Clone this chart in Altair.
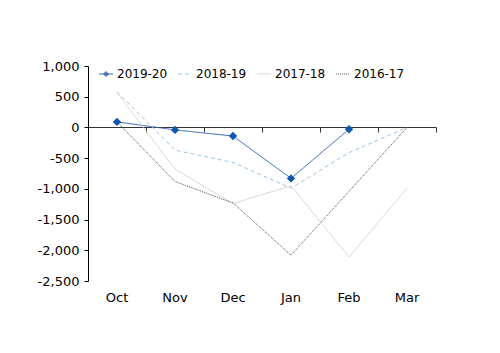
import altair as alt
import pandas as pd

months = ["Oct", "Nov", "Dec", "Jan", "Feb", "Mar"]
series_names = ["2019-20", "2018-19", "2017-18", "2016-17"]
s2019 = [90, -40, -140, -830, -30, None]
s2018 = [580, -370, -570, -990, -410, 0]
s2017 = [570, -680, -1240, -950, -2110, -990]
s2016 = [90, -880, -1230, -2080, -1040, 0]
y_ticks = [1000, 500, 0, -500, -1000, -1500, -2000, -2500]

rows = []
for name, vals in zip(series_names, [s2019, s2018, s2017, s2016]):
    for m, v in zip(months, vals):
        if v is not None:
            rows.append({"month": m, "series": name, "value": v})
df = pd.DataFrame(rows)

colors = ["#2f60b0", "#9cc2ea", "#d4d4d4", "#505050"]
dashes = [[1, 0], [4, 3], [1, 0], [1, 1]]
line_diamond = ("M-1,0L1,0"
                "M0,-0.36L0.36,0L0,0.36L-0.36,0Z"
                "M0,-0.24L0.24,0L0,0.24L-0.24,0Z"
                "M0,-0.12L0.12,0L0,0.12L-0.12,0Z")
shapes = [line_diamond, "stroke", "stroke", "stroke"]
FONT = "DejaVu Sans"

xscale = alt.Scale(type="band", domain=months, paddingInner=0, paddingOuter=0)
yscale = alt.Scale(domain=[-2500, 1000], nice=False, zero=False)
cscale = alt.Scale(domain=series_names, range=colors)
dscale = alt.Scale(domain=series_names, range=dashes)

leg = alt.Legend(orient="none", legendX=10, legendY=0, direction="horizontal",
                 title=None, symbolSize=200, symbolOpacity=1,
                 symbolStrokeWidth=1, labelFontSize=12, labelFont=FONT,
                 labelColor="black", columnPadding=7, labelOffset=3)

yaxis = alt.Axis(values=y_ticks, title=None, grid=False,
                 labelExpr="replace(format(datum.value, ',.0f'), '\u2212', '-')",
                 labelOverlap=False, labelFlush=False,
                 domainColor="black", tickColor="black", tickSize=4,
                 labelFontSize=13, labelFont=FONT, labelColor="black",
                 labelPadding=5)

lines = alt.Chart(df).mark_line(strokeWidth=1).encode(
    x=alt.X("month:O", scale=xscale, sort=months, bandPosition=0.5,
            axis=alt.Axis(orient="bottom", title=None, labelAngle=0, ticks=False,
                          domain=False, labelFontSize=13, labelFont=FONT,
                          labelColor="black", labelPadding=10, grid=False)),
    y=alt.Y("value:Q", scale=yscale, axis=yaxis),
    color=alt.Color("series:N", scale=cscale, legend=None),
    strokeDash=alt.StrokeDash("series:N", scale=dscale, legend=None),
    order=alt.Order("series:N", sort="ascending"),
)

pts = alt.Chart(df[df["series"] == "2019-20"]).mark_point(
    shape="diamond", filled=True, size=70, color="#0d57b3", opacity=1
).encode(
    x=alt.X("month:O", scale=xscale, sort=months, bandPosition=0.5,
            axis=alt.Axis(orient="bottom", offset=-154, labels=False, title=None,
                          ticks=True, tickBand="extent", tickSize=5,
                          domainColor="#333333", tickColor="#333333", grid=False)),
    y=alt.Y("value:Q", scale=yscale, axis=yaxis),
)

legend_layer = alt.Chart(df).mark_point(filled=False, opacity=0, strokeWidth=1).encode(
    x=alt.X("month:O", scale=xscale, sort=months, bandPosition=0.5, axis=None),
    y=alt.Y("value:Q", scale=yscale, axis=yaxis),
    color=alt.Color("series:N", scale=cscale, legend=leg),
    strokeDash=alt.StrokeDash("series:N", scale=dscale, legend=leg),
    shape=alt.Shape("series:N", scale=alt.Scale(domain=series_names, range=shapes),
                    legend=leg),
)

chart = alt.layer(lines, pts, legend_layer).resolve_axis(x="independent").resolve_legend(
    color="independent", strokeDash="independent", shape="independent"
).properties(
    width=348, height=215,
    autosize=alt.AutoSizeParams(type="none"),
    padding={"left": 88, "top": 66, "right": 64, "bottom": 72},
    background="white",
).configure_view(stroke=None)

chart.save("out.html", embed_options={"renderer": "svg", "actions": False})
